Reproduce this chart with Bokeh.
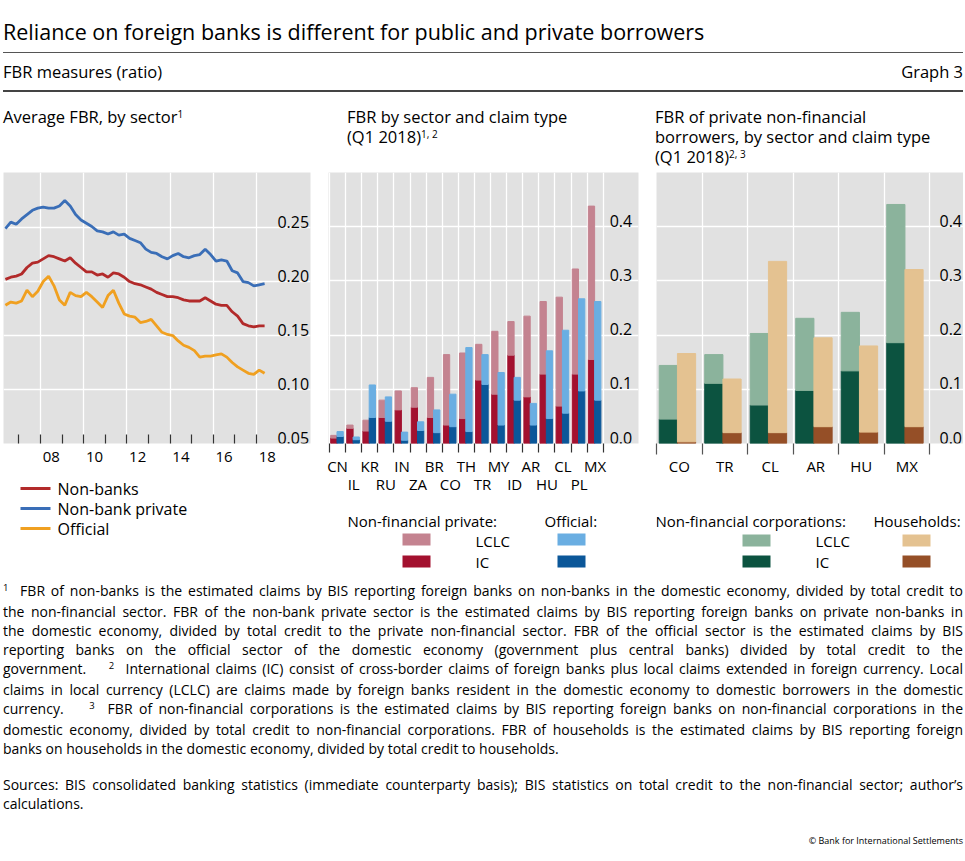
from bokeh.plotting import figure
from bokeh.models import Range1d, FixedTicker, LinearAxis, Div
from bokeh.layouts import column, row
from bokeh.core.properties import value
from bokeh.embed import file_html
from bokeh.resources import INLINE

FONT = "Open Sans"
BG = "#e1e1e1"

# ---------------- Panel 1 data (quarterly, 2006Q2 .. 2018Q2) ----------------
non_banks = [0.202, 0.204, 0.205, 0.207, 0.213, 0.217, 0.218, 0.221, 0.224, 0.223,
             0.221, 0.219, 0.222, 0.217, 0.213, 0.209, 0.209, 0.206, 0.207, 0.204,
             0.208, 0.207, 0.204, 0.200, 0.198, 0.197, 0.195, 0.193, 0.190, 0.188,
             0.186, 0.186, 0.185, 0.183, 0.182, 0.182, 0.182, 0.185, 0.182, 0.179,
             0.178, 0.178, 0.172, 0.168, 0.161, 0.159, 0.158, 0.159, 0.159]
non_bank_private = [0.249, 0.255, 0.253, 0.258, 0.262, 0.266, 0.268, 0.269, 0.268, 0.268,
                    0.270, 0.275, 0.270, 0.262, 0.257, 0.254, 0.251, 0.247, 0.246, 0.244,
                    0.246, 0.243, 0.244, 0.240, 0.238, 0.236, 0.230, 0.227, 0.226, 0.223,
                    0.221, 0.224, 0.226, 0.223, 0.222, 0.224, 0.225, 0.230, 0.225, 0.219,
                    0.220, 0.219, 0.210, 0.208, 0.200, 0.199, 0.196, 0.197, 0.198]
official = [0.178, 0.181, 0.180, 0.182, 0.192, 0.186, 0.191, 0.200, 0.205, 0.196,
            0.183, 0.178, 0.190, 0.187, 0.186, 0.190, 0.186, 0.181, 0.176, 0.187,
            0.192, 0.180, 0.170, 0.168, 0.167, 0.162, 0.163, 0.165, 0.159, 0.153,
            0.151, 0.150, 0.145, 0.141, 0.139, 0.136, 0.130, 0.131, 0.131, 0.132,
            0.133, 0.130, 0.125, 0.121, 0.118, 0.115, 0.114, 0.118, 0.115]
first_quarter = 2006.25          # 2006 Q2
dates = [first_quarter + 0.125 + 0.25 * i for i in range(len(non_banks))]

year_grid = [2008, 2010, 2012, 2014, 2016, 2018]
year_labels = ["08", "10", "12", "14", "16", "18"]
year_marks = list(range(2007, 2019))
p1_ticks = [0.05, 0.10, 0.15, 0.20, 0.25]
p1_labels = ["0.05", "0.10", "0.15", "0.20", "0.25"]
series1_names = ["Non-banks", "Non-bank private", "Official"]

# ---------------- Panel 2 data ----------------
countries2 = ["CN", "IL", "KR", "RU", "IN", "ZA", "BR", "CO", "TH", "TR",
              "MY", "ID", "AR", "HU", "CL", "PL", "MX"]
priv_ic = [0.010, 0.028, 0.023, 0.048, 0.062, 0.067, 0.048, 0.034, 0.046, 0.117,
           0.091, 0.163, 0.086, 0.128, 0.069, 0.128, 0.155]
priv_lclc = [0.005, 0.006, 0.020, 0.032, 0.035, 0.036, 0.074, 0.130, 0.121, 0.066,
             0.116, 0.062, 0.149, 0.134, 0.201, 0.194, 0.283]
off_ic = [0.013, 0.007, 0.048, 0.041, 0.006, 0.024, 0.020, 0.031, 0.022, 0.109,
          0.034, 0.080, 0.034, 0.046, 0.056, 0.097, 0.080]
off_lclc = [0.009, 0.005, 0.060, 0.045, 0.015, 0.016, 0.042, 0.060, 0.155, 0.055,
            0.097, 0.042, 0.040, 0.125, 0.153, 0.170, 0.182]

# ---------------- Panel 3 data ----------------
countries3 = ["CO", "TR", "CL", "AR", "HU", "MX"]
nfc_ic = [0.045, 0.111, 0.071, 0.098, 0.134, 0.186]
nfc_lclc = [0.099, 0.053, 0.132, 0.133, 0.108, 0.255]
hh_ic = [0.003, 0.020, 0.020, 0.031, 0.021, 0.031]
hh_lclc = [0.163, 0.099, 0.316, 0.164, 0.159, 0.290]

bar_ticks = [0.0, 0.1, 0.2, 0.3, 0.4]
bar_labels = ["0.0", "0.1", "0.2", "0.3", "0.4"]

RED = "#b22a2a"
BLUE = "#3a6eb7"
ORANGE = "#f0a020"
PINK = "#c48390"
CRIMSON = "#a3112f"
LBLUE = "#6aaee2"
DBLUE = "#0b5799"
LGREEN = "#8bb39c"
DGREEN = "#0c5340"
TAN = "#e4c291"
BROWN = "#954f27"


def style_axis(ax, size="15px"):
    ax.axis_line_color = None
    ax.major_label_text_font = FONT
    ax.major_label_text_font_size = size
    ax.major_label_text_color = "black"


def base_fig(**kw):
    f = figure(output_backend="svg", toolbar_location=None, y_axis_location=None,
               min_border_top=0, **kw)
    f.background_fill_color = BG
    f.border_fill_color = "white"
    f.outline_line_color = None
    for g in (f.xgrid[0], f.ygrid[0]):
        g.grid_line_color = "white"
        g.grid_line_width = 1.3
    return f


def y_labels(f, x, ticks, labels):
    f.text(x=[x] * len(ticks), y=ticks, text=labels,
           text_font=value(FONT), text_font_size="16px", text_color="black",
           text_baseline="bottom", text_align="left")


# ---------------- Panel 1 ----------------
p1 = base_fig(frame_width=307, frame_height=271,
              x_range=Range1d(2006.287, 2020.5), y_range=Range1d(0.05, 0.301),
              min_border_left=0, min_border_right=10, min_border_bottom=30)
p1.xgrid[0].ticker = FixedTicker(ticks=year_grid)
p1.ygrid[0].ticker = FixedTicker(ticks=p1_ticks)
ax = p1.xaxis[0]
ax.ticker = FixedTicker(ticks=[y + 0.5 for y in year_grid], minor_ticks=year_marks)
ax.major_label_overrides = {y + 0.5: lab for y, lab in zip(year_grid, year_labels)}
ax.major_tick_line_color = None
ax.major_tick_in = 0
ax.major_tick_out = 0
ax.minor_tick_in = 9
ax.minor_tick_out = 0
ax.minor_tick_line_color = "#333333"
ax.minor_tick_line_width = 1.2
ax.major_label_standoff = 8
style_axis(ax)

p1.line(dates, non_banks, color=RED, line_width=2.8)
p1.line(dates, non_bank_private, color=BLUE, line_width=2.8)
p1.line(dates, official, color=ORANGE, line_width=2.8)
y_labels(p1, 2018.97, p1_ticks, p1_labels)

# ---------------- Panel 2 ----------------
n2 = len(countries2)
idx2 = list(range(n2))
p2 = base_fig(frame_width=310, frame_height=271,
              x_range=Range1d(-0.562, 18.69), y_range=Range1d(0, 0.5),
              min_border_left=8, min_border_right=2, min_border_bottom=62)
p2.xgrid[0].ticker = FixedTicker(ticks=[i - 0.5 for i in range(n2 + 1)])
p2.ygrid[0].ticker = FixedTicker(ticks=bar_ticks[1:])
ax = p2.xaxis[0]
ax.ticker = FixedTicker(ticks=idx2[0::2], minor_ticks=[i - 0.5 for i in range(n2 + 1)])
ax.major_label_overrides = {i: countries2[i] for i in idx2[0::2]}
ax.major_tick_line_color = None
ax.major_tick_in = 0
ax.major_tick_out = 9
ax.minor_tick_in = 0
ax.minor_tick_out = 9
ax.minor_tick_line_color = "#333333"
ax.minor_tick_line_width = 1.2
ax.major_label_standoff = 3
style_axis(ax)
axb = LinearAxis(ticker=FixedTicker(ticks=idx2[1::2], minor_ticks=[]),
                 major_label_overrides={i: countries2[i] for i in idx2[1::2]},
                 major_tick_line_color=None, minor_tick_line_color=None,
                 major_tick_in=0, major_tick_out=0, minor_tick_in=0, minor_tick_out=0,
                 major_label_standoff=-5)
style_axis(axb)
p2.add_layout(axb, "below")

w2 = 0.39
x_priv = [i - 0.23 for i in idx2]
x_off = [i + 0.16 for i in idx2]
p2.vbar(x=x_priv, width=w2, bottom=0, top=priv_ic, color=CRIMSON)
p2.vbar(x=x_priv, width=w2, bottom=priv_ic,
        top=[a + b for a, b in zip(priv_ic, priv_lclc)], color=PINK)
p2.vbar(x=x_off, width=w2, bottom=0, top=off_ic, color=DBLUE)
p2.vbar(x=x_off, width=w2, bottom=off_ic,
        top=[a + b for a, b in zip(off_ic, off_lclc)], color=LBLUE)
y_labels(p2, 16.9, bar_ticks, bar_labels)

# ---------------- Panel 3 ----------------
n3 = len(countries3)
idx3 = list(range(n3))
p3 = base_fig(frame_width=307, frame_height=271,
              x_range=Range1d(-0.5, 6.247), y_range=Range1d(0, 0.5),
              min_border_left=16, min_border_right=0, min_border_bottom=62)
p3.xgrid[0].ticker = FixedTicker(ticks=[i - 0.5 for i in range(n3 + 1)])
p3.ygrid[0].ticker = FixedTicker(ticks=bar_ticks[1:])
ax = p3.xaxis[0]
ax.ticker = FixedTicker(ticks=idx3, minor_ticks=[i - 0.5 for i in range(n3 + 1)])
ax.major_label_overrides = {i: c for i, c in zip(idx3, countries3)}
ax.major_tick_line_color = None
ax.major_tick_in = 0
ax.major_tick_out = 11
ax.minor_tick_in = 0
ax.minor_tick_out = 11
ax.minor_tick_line_color = "#555555"
ax.minor_tick_line_width = 1.2
ax.major_label_standoff = 1
style_axis(ax)

w3 = 0.40
x_nfc = [i - 0.24 for i in idx3]
x_hh = [i + 0.16 for i in idx3]
p3.vbar(x=x_nfc, width=w3, bottom=0, top=nfc_ic, color=DGREEN)
p3.vbar(x=x_nfc, width=w3, bottom=nfc_ic,
        top=[a + b for a, b in zip(nfc_ic, nfc_lclc)], color=LGREEN)
p3.vbar(x=x_hh, width=w3, bottom=0, top=hh_ic, color=BROWN)
p3.vbar(x=x_hh, width=w3, bottom=hh_ic,
        top=[a + b for a, b in zip(hh_ic, hh_lclc)], color=TAN)
y_labels(p3, 5.72, bar_ticks, bar_labels)


# ---------------- Legend figures ----------------
# Local x coordinates are measured from the left edge of the panel column;
# the frames are aligned with the plots above, so borders match theirs.
def legend_fig(left, frame_w, right, height, texts, swatches=(), lines=(), size="15px"):
    f = figure(frame_width=frame_w, frame_height=height,
               x_range=Range1d(left, left + frame_w), y_range=Range1d(height, 0),
               output_backend="svg", toolbar_location=None,
               min_border_left=left, min_border_right=right, min_border_top=0, min_border_bottom=0,
               x_axis_location=None, y_axis_location=None)
    f.grid.visible = False
    f.outline_line_color = None
    f.background_fill_color = "white"
    f.border_fill_color = "white"
    for (tx, ty, t) in texts:
        f.text(x=[tx], y=[ty], text=[t], text_font=value(FONT), text_font_size=size,
               text_color="black", text_baseline="middle", text_align="left")
    for (cx, cy, c) in swatches:
        f.rect(x=[cx], y=[cy], width=28, height=12, fill_color=c, line_color=None)
    for (x0, x1, yy, c) in lines:
        f.segment(x0=[x0], y0=[yy], x1=[x1], y1=[yy], line_color=c, line_width=2.8)
    return f


lg1 = legend_fig(0, 307, 10, 102,
                 texts=[(54, 15, series1_names[0]), (54, 35, series1_names[1]),
                        (54, 55, series1_names[2])],
                 lines=[(17, 47, 15, RED), (17, 47, 35, BLUE), (17, 47, 55, ORANGE)],
                 size="16px")
lg2 = legend_fig(8, 310, 2, 70,
                 texts=[(27, 15, "Non-financial private:"), (224, 15, "Official:"),
                        (155, 35, "LCLC"), (155, 56, "IC")],
                 swatches=[(96, 34, PINK), (96, 56, CRIMSON), (251, 34, LBLUE), (251, 56, DBLUE)])
lg3 = legend_fig(16, 307, 0, 70,
                 texts=[(15, 15, "Non-financial corporations:"), (233, 15, "Households:"),
                        (175, 35, "LCLC"), (175, 56, "IC")],
                 swatches=[(116, 35, LGREEN), (116, 56, DGREEN), (276, 35, TAN), (276, 56, BROWN)])

# ---------------- Text blocks ----------------
SUP = "<span style='font-size:10px;position:relative;top:-5px'>{}</span>"
header = Div(width=960, height=97, margin=0, text=f"""
<div style="position:relative;width:960px;height:97px;font-family:'{FONT}';color:#000">
 <div style="position:absolute;left:0;top:14px;font-size:21.5px;line-height:30px;white-space:nowrap">Reliance on foreign banks is different for public and private borrowers</div>
 <div style="position:absolute;left:0;top:49px;width:960px;border-top:1px solid #555"></div>
 <div style="position:absolute;left:0;top:59px;font-size:16.5px;line-height:20px">FBR measures (ratio)</div>
 <div style="position:absolute;right:0;top:59px;font-size:16.5px;line-height:20px">Graph 3</div>
 <div style="position:absolute;left:0;top:87px;width:960px;border-top:2px solid #444"></div>
</div>""")


def title_div(width, left, lines):
    body = "".join(f"<div style='white-space:nowrap'>{ln}</div>" for ln in lines)
    return Div(width=width, height=72, margin=0, text=f"""
<div style="position:relative;width:{width}px;height:72px;font-family:'{FONT}';color:#000">
 <div style="position:absolute;left:{left}px;top:7px;font-size:16.5px;line-height:20px">{body}</div>
</div>""")


t1 = title_div(317, 0, ["Average FBR, by sector" + SUP.format("1")])
t2 = title_div(320, 27, ["FBR by sector and claim type", "(Q1 2018)" + SUP.format("1, 2")])
t3 = title_div(323, 15, ["FBR of private non-financial", "borrowers, by sector and claim type",
                         "(Q1 2018)" + SUP.format("2, 3")])

FS = "<span style='font-size:9.5px;position:relative;top:-5px'>{}</span>"
foot_lines = [
    FS.format("1") + "&nbsp;&nbsp;FBR of non-banks is the estimated claims by BIS reporting foreign banks on non-banks in the domestic economy, divided by total credit to",
    "the non-financial sector. FBR of the non-bank private sector is the estimated claims by BIS reporting foreign banks on private non-banks in",
    "the domestic economy, divided by total credit to the private non-financial sector. FBR of the official sector is the estimated claims by BIS",
    "reporting banks on the official sector of the domestic economy (government plus central banks) divided by total credit to the",
    "government.&nbsp;&nbsp;&nbsp; " + FS.format("2") + "&nbsp;&nbsp;International claims (IC) consist of cross-border claims of foreign banks plus local claims extended in foreign currency. Local",
    "claims in local currency (LCLC) are claims made by foreign banks resident in the domestic economy to domestic borrowers in the domestic",
    "currency.&nbsp;&nbsp;&nbsp; " + FS.format("3") + "&nbsp;&nbsp;FBR of non-financial corporations is the estimated claims by BIS reporting foreign banks on non-financial corporations in the",
    "domestic economy, divided by total credit to non-financial corporations. FBR of households is the estimated claims by BIS reporting foreign",
    "banks on households in the domestic economy, divided by total credit to households.",
]
src_lines = [
    "Sources: BIS consolidated banking statistics (immediate counterparty basis); BIS statistics on total credit to the non-financial sector; author\u2019s",
    "calculations.",
]


def block(lines):
    out = []
    for k, ln in enumerate(lines):
        last = k == len(lines) - 1
        al = "left" if last else "justify"
        out.append(f"<div style='text-align:{al};text-align-last:{al}'>{ln}</div>")
    return "".join(out)


footer = Div(width=960, height=270, margin=0, text=f"""
<div style="position:relative;width:960px;height:270px;font-family:'{FONT}';color:#000;font-size:14px;line-height:19px">
 <div style="position:absolute;left:0;top:6px;width:960px">{block(foot_lines)}</div>
 <div style="position:absolute;left:0;top:200px;width:960px">{block(src_lines)}</div>
 <div style="position:absolute;right:0;top:259px;font-size:9px;line-height:14px">\u00a9 Bank for International Settlements</div>
</div>""")

col1 = column(t1, p1, lg1, spacing=0, margin=0)
col2 = column(t2, p2, lg2, spacing=0, margin=0)
col3 = column(t3, p3, lg3, spacing=0, margin=0)
layout = column(header, row(col1, col2, col3, spacing=0, margin=0), footer,
                spacing=0, margin=(3, 0, 0, 3))

open("out.html", "w").write(file_html(layout, INLINE))
